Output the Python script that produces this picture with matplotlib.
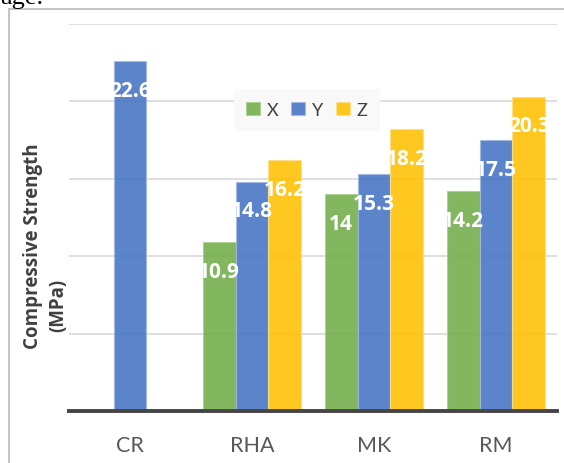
import numpy as np
import matplotlib.pyplot as plt
from matplotlib.lines import Line2D

# data
categories = ['CR', 'RHA', 'MK', 'RM']
series_names = ['X', 'Y', 'Z']
x_vals = [np.nan, 10.9, 14.0, 14.2]
y_vals = [22.6, 14.8, 15.3, 17.5]
z_vals = [np.nan, 16.2, 18.2, 20.3]
colors = ['#70AD47', '#4472C4', '#FFC000']
edges = ['#a9d08e', '#a4b9e3', '#ffe08a']

W, H = 564, 464
plt.rcParams['font.family'] = ['Lato', 'DejaVu Sans']
bold_font = ['Open Sans', 'DejaVu Sans']

fig = plt.figure(figsize=(W / 100, H / 100), dpi=100)
ax = fig.add_axes([69 / W, 1 - 412 / H, (557 - 69) / W, (412 - 25) / H])

pos = np.arange(len(categories))
width = 0.27
bars = []
for k, (name, vals) in enumerate(zip(series_names, [x_vals, y_vals, z_vals])):
    b = ax.bar(pos + (k - 1) * width, vals, width, color=colors[k], alpha=0.87,
               edgecolor=edges[k], linewidth=0.8, label=name, zorder=2)
    bars.append(b)
    for xi, v in zip(pos + (k - 1) * width, vals):
        if np.isnan(v):
            continue
        ax.annotate('%g' % v, (xi, v), xytext=(0, -29), textcoords='offset pixels',
                    ha='center', va='center', color='white', fontsize=15,
                    fontweight='bold', family=bold_font, zorder=5)

ax.set_xlim(-0.5, 3.5)
ax.set_ylim(0, 25)
ax.set_yticks([5, 10, 15, 20, 25])
ax.yaxis.grid(True, color='#d9d9d9', linewidth=1.2, zorder=0)
ax.set_axisbelow(True)
ax.axhline(0, color='#454545', linewidth=2.8, zorder=3, clip_on=False)
for s in ax.spines.values():
    s.set_visible(False)
ax.tick_params(axis='y', left=False, labelleft=False)
ax.tick_params(axis='x', bottom=False, pad=14)
ax.set_xticks(pos)
ax.set_xticklabels(categories, fontsize=15.5, color='#595959')

leg = ax.legend(handles=bars, ncol=3, loc='center', fontsize=13,
                bbox_to_anchor=(307 / W, 1 - 111 / H), bbox_transform=fig.transFigure,
                frameon=True, fancybox=False, facecolor='#f9f9f9', edgecolor='none',
                framealpha=1, handlelength=0.75, handleheight=0.75, handletextpad=0.4,
                columnspacing=0.7, borderpad=0.7)
for t in leg.get_texts():
    t.set_color('#404040')
leg.set_zorder(6)

# y axis title, two lines
fig.text(33 / W, 1 - 246 / H, 'Compressive Strength', rotation=90, ha='center',
         va='center', fontsize=13.5, fontweight='bold', family=bold_font, color='#404040')
fig.text(58 / W, 1 - 305 / H, '(MPa)', rotation=90, ha='center',
         va='center', fontsize=13.5, fontweight='bold', family=bold_font, color='#404040')

# chart frame and clipped document text above it
fig.add_artist(Line2D([9 / W, 9 / W], [0, 1 - 10 / H], color='#c4c4c4', linewidth=1.4))
fig.add_artist(Line2D([9 / W, 1], [1 - 10 / H, 1 - 10 / H], color='#c4c4c4', linewidth=1.4))
fig.text(0, 1 - 4 / H, 'age.', ha='left', va='baseline', fontsize=19,
         family='Liberation Serif', color='black')

fig.savefig('out.png', dpi=100)
